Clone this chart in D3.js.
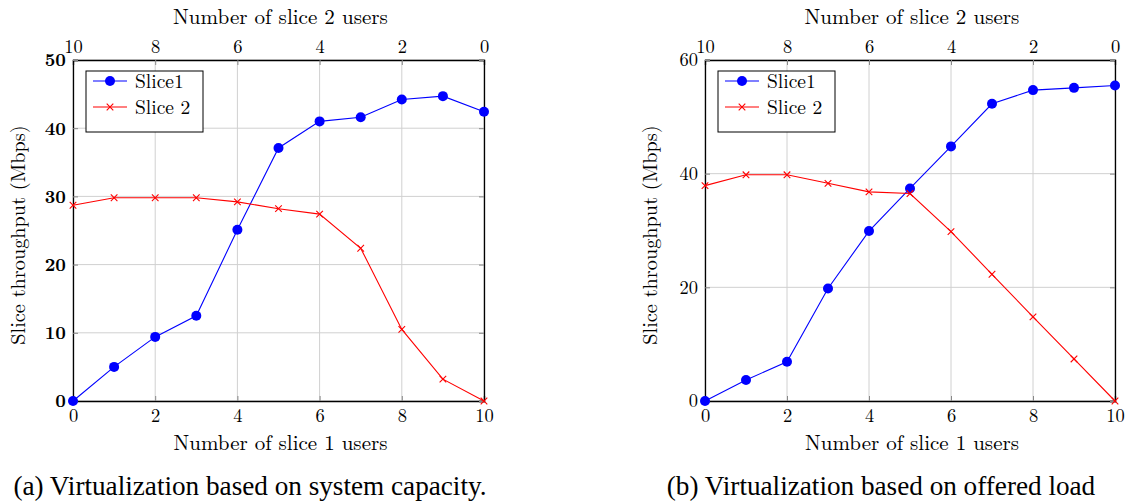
<!DOCTYPE html>
<html><head><meta charset="utf-8">
<script src="https://cdn.jsdelivr.net/npm/d3@7"></script>
<style>body{margin:0;background:#fff}svg{display:block}</style>
</head><body><svg id="c" width="1128" height="502"></svg>
<script>
const slice1Users = [0,1,2,3,4,5,6,7,8,9,10];
const slice2UsersTicks = [10,8,6,4,2,0];
const slice1TicksBottom = [0,2,4,6,8,10];
const capacitySlice1 = [0,5.0,9.4,12.5,25.1,37.1,41.0,41.6,44.2,44.7,42.4];
const capacitySlice2 = [28.7,29.8,29.8,29.8,29.2,28.2,27.4,22.4,10.5,3.2,0];
const offeredSlice1 = [0,3.7,6.9,19.8,29.9,37.4,44.8,52.3,54.7,55.1,55.5];
const offeredSlice2 = [37.9,39.8,39.8,38.3,36.8,36.5,29.8,22.3,14.8,7.4,0];
const yTicksA = [0,10,20,30,40,50];
const yTicksB = [0,20,40,60];
const seriesNames = ["Slice1","Slice 2"];
const captions = ["(a) Virtualization based on system capacity.","(b) Virtualization based on offered load"];

const LM = "Latin Modern Roman";
const TIMES = "Times New Roman";
const svg = d3.select("#c");

function fit(sel,width,base){
  sel.attr("font-size",base);
  const w = sel.node().getComputedTextLength();
  if (w>0) sel.attr("font-size",Math.round(base*width/w*10)/10);
  return sel;
}
function lm(sel){ return sel.attr("font-family",LM).style("font-family",LM); }

function panel(opt){
  const g = svg.append("g");
  const x = d3.scaleLinear().domain([0,10]).range([opt.x0,opt.x1]);
  const xTop = d3.scaleLinear().domain([10,0]).range([opt.x0,opt.x1]);
  const y = d3.scaleLinear().domain([0,opt.ymax]).range([401,60]);
  g.append("g").selectAll("line").data(slice1TicksBottom).join("line")
    .attr("x1",d=>x(d)).attr("x2",d=>x(d)).attr("y1",60).attr("y2",401)
    .attr("stroke","#d0d0d0").attr("stroke-width",1);
  g.append("g").selectAll("line").data(opt.yticks).join("line")
    .attr("x1",opt.x0).attr("x2",opt.x1).attr("y1",d=>y(d)).attr("y2",d=>y(d))
    .attr("stroke","#d0d0d0").attr("stroke-width",1);
  const ax = g.append("g").attr("transform","translate(0,401)").call(d3.axisBottom(x).tickValues(slice1TicksBottom).tickSize(-5).tickPadding(8));
  const at = g.append("g").attr("transform","translate(0,60)").call(d3.axisTop(xTop).tickValues(slice2UsersTicks).tickSize(-5).tickPadding(7));
  const al = g.append("g").attr("transform",`translate(${opt.x0},0)`).call(d3.axisLeft(y).tickValues(opt.yticks).tickSize(-5).tickPadding(7));
  const ar = g.append("g").attr("transform",`translate(${opt.x1},0)`).call(d3.axisRight(y).tickValues(opt.yticks).tickSize(-5).tickFormat(""));
  [ax,at,al,ar].forEach(a=>{
    a.attr("font-family",null).attr("font-size",null);
    a.select(".domain").attr("stroke","#000").attr("stroke-width",1.3);
    a.selectAll(".tick line").attr("stroke","#888");
    lm(a.selectAll("text")).attr("fill","#000").attr("font-size",18.5);
  });
  al.selectAll("text").attr("font-weight",opt.boldY?"bold":"normal");
  const cx = (opt.x0+opt.x1)/2;
  fit(lm(g.append("text")).attr("x",cx+2).attr("y",24).attr("text-anchor","middle").attr("fill","#000").text("Number of slice 2 users"),215,19);
  fit(lm(g.append("text")).attr("x",cx+2).attr("y",450).attr("text-anchor","middle").attr("fill","#000").text("Number of slice 1 users"),214,19);
  fit(lm(g.append("text")).attr("transform",`translate(${opt.x0-48},235) rotate(-90)`).attr("text-anchor","middle").attr("fill","#000").text("Slice throughput (Mbps)"),220,19);
  fit(g.append("text").attr("font-family",TIMES).style("font-family",TIMES).attr("x",opt.capX).attr("y",495).attr("text-anchor","middle").attr("fill","#000").text(opt.caption),opt.capW,22);
  const line = d3.line().x((d,i)=>x(slice1Users[i])).y(d=>y(d));
  g.append("path").datum(opt.s1).attr("d",line).attr("fill","none").attr("stroke","#0000ff").attr("stroke-width",1.1);
  g.append("path").datum(opt.s2).attr("d",line).attr("fill","none").attr("stroke","#ff0000").attr("stroke-width",1.1);
  g.append("g").selectAll("circle").data(opt.s1).join("circle")
    .attr("cx",(d,i)=>x(slice1Users[i])).attr("cy",d=>y(d)).attr("r",5).attr("fill","#0000ff");
  const cross = (sel,px,py,s)=>sel.append("path").attr("d",`M${px-s},${py-s}L${px+s},${py+s}M${px-s},${py+s}L${px+s},${py-s}`).attr("stroke","#ff0000").attr("stroke-width",1.1);
  const cg = g.append("g");
  opt.s2.forEach((d,i)=>cross(cg,x(slice1Users[i]),y(d),3.3));
  const lx = opt.x0+13, ly = 71;
  g.append("rect").attr("x",lx).attr("y",ly).attr("width",117).attr("height",61).attr("fill","#fff").attr("stroke","#000").attr("stroke-width",1);
  const rows=[{c:"#0000ff",m:"o",t:seriesNames[0],yy:ly+10},{c:"#ff0000",m:"x",t:seriesNames[1],yy:ly+36}];
  rows.forEach(r=>{
    g.append("line").attr("x1",lx+7).attr("x2",lx+41).attr("y1",r.yy).attr("y2",r.yy).attr("stroke",r.c).attr("stroke-width",1.1);
    if(r.m==="o") g.append("circle").attr("cx",lx+24).attr("cy",r.yy).attr("r",5).attr("fill",r.c);
    else cross(g,lx+24,r.yy,3.3);
    lm(g.append("text")).attr("x",lx+49).attr("y",r.yy+6.5).attr("font-size",19.5).attr("fill","#000").text(r.t);
  });
}

panel({x0:73,x1:484,ymax:50,yticks:yTicksA,s1:capacitySlice1,s2:capacitySlice2,boldY:true,caption:captions[0],capX:250,capW:474});
panel({x0:705,x1:1115,ymax:60,yticks:yTicksB,s1:offeredSlice1,s2:offeredSlice2,boldY:false,caption:captions[1],capX:881,capW:428});
</script></body></html>
